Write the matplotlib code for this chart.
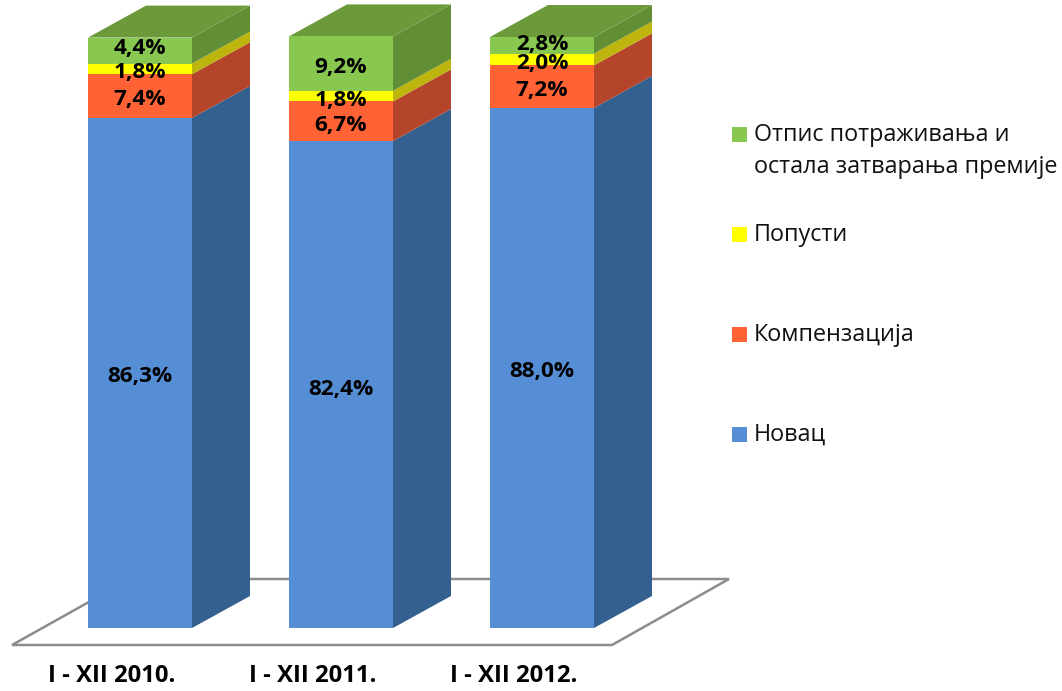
import matplotlib
matplotlib.use("Agg")
import matplotlib.pyplot as plt
from matplotlib.patches import Polygon, Rectangle
from matplotlib.transforms import blended_transform_factory
import numpy as np

categories = ["I - XII 2010.", "I - XII 2011.", "I - XII 2012."]
series_names = ["Новац", "Компензација", "Попусти", "Отпис потраживања и\nостала затварања премије"]
novac = [86.3, 82.4, 88.0]
kompenzacija = [7.4, 6.7, 7.2]
popusti = [1.8, 1.8, 2.0]
otpis = [4.4, 9.2, 2.8]
value_labels = [["86,3%", "82,4%", "88,0%"], ["7,4%", "6,7%", "7,2%"],
                ["1,8%", "1,8%", "2,0%"], ["4,4%", "9,2%", "2,8%"]]

front = ["#558ED5", "#FF6235", "#FFFF00", "#88C750"]
side = ["#33608F", "#B4452A", "#BDB50E", "#628F35"]
top_col = "#6C9A3B"

W, H = 1062, 691
fig = plt.figure(figsize=(W / 100, H / 100), dpi=100, facecolor="white")
ax = fig.add_axes([0, 0, 1, 1])
PXX, PXY = 201.0, 5.91          # pixels per category step / per percent
ax.set_xlim(-140 / PXX, (W - 140) / PXX)
ax.set_ylim(-(H - 628) / PXY, 628 / PXY)
ax.axis("off")
bw = 104 / PXX
dx, dy = 58 / PXX, 32 / PXY

# floor
fl = [(-128 / PXX, -17 / PXY), (472 / PXX, -17 / PXY), (589 / PXX, 49 / PXY), (-10 / PXX, 49 / PXY)]
ax.add_patch(Polygon(fl, closed=True, facecolor="white", edgecolor="#8C8C8C", lw=1.8, zorder=1))

fam = ["Open Sans", "DejaVu Sans"]
data = [novac, kompenzacija, popusti, otpis]
# downward shift of each value label, in pixels (series by category)
shift_px = [[4, 5, 4], [3, 4, 4], [4, 4, 4], [-2, 4, -1]]
for i in range(len(categories)):
    x0, x1 = i - bw / 2, i + bw / 2
    base = 0.0
    for s, vals in enumerate(data):
        v = vals[i]
        t = base + v
        ax.add_patch(Polygon([(x1, base), (x1 + dx, base + dy), (x1 + dx, t + dy), (x1, t)],
                             closed=True, facecolor=side[s], edgecolor="none", zorder=3))
        ax.add_patch(Rectangle((x0, base), bw, v, facecolor=front[s], edgecolor="none", zorder=4))
        ax.text(i, base + v / 2 - shift_px[s][i] / PXY, value_labels[s][i], ha="center", va="center",
                fontsize=16.2, fontweight="bold", family=fam, color="black", zorder=6)
        base = t
    ax.add_patch(Polygon([(x0, base), (x1, base), (x1 + dx, base + dy), (x0 + dx, base + dy)],
                         closed=True, facecolor=top_col, edgecolor="none", zorder=3))

tr = blended_transform_factory(ax.transData, ax.transAxes)
for i, c in enumerate(categories):
    ax.text(i - 28 / PXX, 1 - 676 / H, c, transform=tr, ha="center", va="center",
            fontsize=17.2, fontweight="bold", family=fam, color="black")

# legend
ly = [434, 334, 234, 134]
tops = [435, 335, 235, 151]
for s in range(4):
    ax.add_patch(Rectangle((732 / W, 1 - (ly[s] + 7.5) / H), 15 / W, 15 / H, transform=ax.transAxes,
                           facecolor=front[s], edgecolor="none"))
    ax.text(754 / W, 1 - tops[s] / H, series_names[s], transform=ax.transAxes, ha="left", va="center",
            fontsize=16.8, family=fam, color="#111111", linespacing=1.4)

fig.savefig("out.png", dpi=100, facecolor="white")
